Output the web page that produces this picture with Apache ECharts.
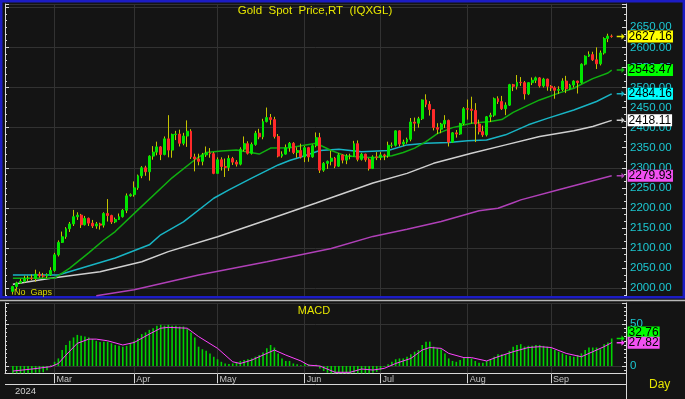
<!DOCTYPE html>
<html>
<head>
<meta charset="utf-8">
<title>Gold Spot Price,RT (IQXGL)</title>
<script src="https://cdn.jsdelivr.net/npm/echarts@6.0.0/dist/echarts.min.js"></script>
<style>
  html, body { margin: 0; padding: 0; background: #141414; }
  #chart { width: 685px; height: 399px; }
</style>
</head>
<body>
<div id="chart"></div>
<script>
// trading days, Feb 15 - Sep 24 2024
var dates = [
  '02-15','02-16','02-19','02-20','02-21','02-22','02-23','02-26','02-27','02-28','02-29',
  '03-01','03-04','03-05','03-06','03-07','03-08','03-11','03-12','03-13','03-14','03-15','03-18','03-19','03-20','03-21','03-22','03-25','03-26','03-27','03-28','03-29',
  '04-01','04-02','04-03','04-04','04-05','04-08','04-09','04-10','04-11','04-12','04-15','04-16','04-17','04-18','04-19','04-22','04-23','04-24','04-25','04-26','04-29','04-30',
  '05-01','05-02','05-03','05-06','05-07','05-08','05-09','05-10','05-13','05-14','05-15','05-16','05-17','05-20','05-21','05-22','05-23','05-24','05-27','05-28','05-29','05-30','05-31',
  '06-03','06-04','06-05','06-06','06-07','06-10','06-11','06-12','06-13','06-14','06-17','06-18','06-19','06-20','06-21','06-24','06-25','06-26','06-27','06-28',
  '07-01','07-02','07-03','07-04','07-05','07-08','07-09','07-10','07-11','07-12','07-15','07-16','07-17','07-18','07-19','07-22','07-23','07-24','07-25','07-26','07-29','07-30','07-31',
  '08-01','08-02','08-05','08-06','08-07','08-08','08-09','08-12','08-13','08-14','08-15','08-16','08-19','08-20','08-21','08-22','08-23','08-26','08-27','08-28','08-29','08-30',
  '09-02','09-03','09-04','09-05','09-06','09-09','09-10','09-11','09-12','09-13','09-16','09-17','09-18','09-19','09-20','09-23','09-24'
];
var monthNames = { '03': 'Mar', '04': 'Apr', '05': 'May', '06': 'Jun', '07': 'Jul', '08': 'Aug', '09': 'Sep' };

var openP = [
  1992,2004,2013,2017,2024,2025,2024,2035,2031,2030,2034,
  2044,2083,2114,2128,2148,2160,2178,2182,2158,2174,2162,2155,2160,2157,2186,2181,2165,2171,2178,2194,2230,
  2233,2250,2280,2300,2290,2329,2339,2352,2333,2372,2344,2383,2384,2361,2379,2391,2327,2322,2316,2332,2337,2335,
  2286,2320,2303,2301,2323,2314,2309,2346,2360,2336,2358,2386,2377,2415,2425,2420,2378,2329,2334,2350,2361,2338,2343,
  2327,2350,2327,2355,2375,2294,2311,2316,2324,2304,2332,2319,2329,2329,2360,2321,2334,2320,2298,2327,
  2326,2332,2330,2356,2356,2392,2359,2364,2371,2414,2411,2422,2469,2458,2445,2400,2396,2409,2418,2364,2387,2384,2410,
  2447,2446,2443,2409,2390,2382,2427,2431,2472,2465,2447,2456,2507,2503,2513,2512,2484,2512,2518,2524,2504,2521,
  2503,2499,2493,2495,2516,2497,2506,2516,2512,2558,2578,2582,2569,2559,2586,2622,2628
];
var closeP = [
  2004,2013,2017,2024,2025,2024,2035,2031,2030,2034,2044,
  2083,2114,2128,2148,2160,2178,2182,2158,2174,2162,2155,2160,2157,2186,2181,2165,2171,2178,2194,2230,2233,
  2250,2280,2300,2290,2329,2339,2352,2333,2372,2344,2383,2384,2361,2379,2391,2327,2322,2316,2332,2337,2335,2286,
  2320,2303,2301,2323,2314,2309,2346,2360,2336,2358,2386,2377,2415,2425,2420,2378,2329,2334,2350,2361,2338,2343,2327,
  2350,2327,2355,2375,2294,2311,2316,2324,2304,2332,2319,2329,2329,2360,2321,2334,2320,2298,2327,2326,
  2332,2330,2356,2356,2392,2359,2364,2371,2414,2411,2422,2469,2458,2445,2400,2396,2409,2418,2364,2387,2384,2410,2447,
  2446,2443,2409,2390,2382,2427,2431,2472,2465,2447,2456,2507,2503,2513,2512,2484,2512,2518,2524,2504,2521,2503,
  2499,2493,2495,2516,2497,2506,2516,2512,2558,2578,2582,2569,2559,2586,2622,2628,2627.16
];
var lowP = [
  1984,1996,2011,2014,2018,2020,2016,2026,2026,2025,2031,
  2041,2079,2113,2123,2140,2155,2170,2150,2156,2155,2150,2148,2146,2151,2166,2160,2162,2170,2176,2187,2228,
  2228,2245,2274,2280,2268,2320,2331,2319,2331,2326,2325,2369,2353,2356,2352,2322,2291,2306,2306,2327,2325,2284,
  2285,2293,2277,2292,2307,2303,2306,2341,2333,2333,2355,2371,2371,2413,2407,2373,2326,2325,2333,2340,2334,2325,2323,
  2314,2315,2325,2351,2287,2290,2297,2306,2299,2302,2311,2309,2321,2328,2316,2318,2315,2293,2297,2319,
  2319,2319,2325,2350,2353,2353,2354,2360,2366,2391,2400,2419,2451,2430,2393,2384,2386,2399,2353,2362,2375,2382,2406,
  2420,2410,2364,2383,2377,2378,2414,2427,2459,2444,2431,2454,2491,2495,2504,2470,2481,2506,2511,2500,2500,2492,
  2491,2472,2484,2491,2486,2495,2500,2485,2510,2555,2576,2566,2546,2555,2582,2613,2624
];
var highP = [
  2006,2016,2023,2031,2031,2034,2046,2041,2038,2037,2052,
  2088,2119,2141,2152,2165,2195,2189,2185,2180,2176,2170,2165,2163,2189,2222,2183,2176,2186,2197,2236,2236,
  2266,2283,2304,2305,2331,2354,2365,2354,2378,2431,2385,2392,2395,2387,2418,2396,2335,2335,2337,2353,2349,2339,
  2326,2326,2323,2331,2327,2319,2351,2378,2366,2363,2392,2397,2422,2450,2434,2427,2384,2341,2358,2364,2364,2351,2360,
  2354,2352,2358,2388,2387,2314,2318,2342,2327,2336,2334,2334,2335,2367,2368,2337,2335,2324,2331,2339,
  2339,2335,2365,2363,2393,2393,2370,2375,2424,2425,2427,2470,2483,2466,2445,2411,2412,2431,2420,2389,2394,2412,2451,
  2470,2477,2461,2420,2405,2429,2437,2475,2478,2479,2463,2509,2509,2531,2526,2516,2513,2525,2527,2526,2524,2522,
  2506,2503,2503,2523,2529,2509,2518,2517,2560,2580,2590,2589,2600,2592,2625,2634,2632
];

// moving averages: [day index, value]
var ma20 = [[0,2025],[11,2025],[15,2050],[20,2088],[24,2120],[27,2141],[33,2195],[42,2275],[48,2320],[51,2338],
  [55,2342],[59,2344],[65,2334],[68,2349],[73,2350],[80,2361],[84,2343],[88,2329],[95,2325],[100,2330],[103,2338],
  [106,2349],[109,2365],[112,2385],[116,2400],[121,2411],[126,2415],[129,2420],[132,2438],[136,2456],[139,2469],
  [144,2486],[148,2498],[150,2508],[153,2522],[157,2536],[158,2543.47]];
var ma50 = [[0,2033],[12,2033],[27,2075],[36,2108],[39,2133],[45,2165],[53,2224],[57,2245],[63,2274],[70,2307],
  [73,2318],[76,2327],[81,2343],[86,2346],[92,2340],[99,2343],[104,2357],[109,2361],[115,2363],[120,2367],[125,2369],
  [130,2382],[136,2407],[141,2423],[148,2444],[154,2465],[158,2484.16]];
var ma100 = [[0,2010],[10,2025],[23,2041],[34,2066],[41,2091],[54,2128],[67,2170],[80,2212],[86,2232],[95,2262],
  [104,2286],[111,2311],[121,2336],[130,2357],[139,2378],[148,2392],[153,2403],[158,2418.11]];
var ma200 = [[22,1981],[32,1996],[49,2033],[67,2066],[84,2099],[95,2129],[104,2147],[113,2166],[123,2193],
  [128,2199],[132,2213],[134,2220],[144,2245],[158,2279.93]];

// MACD histogram, one value per day
var macd = [
  -9,-9,-9,-9,-8.5,-8.5,-8,-8,-7.5,-5,
  1,5,9,19,25,30,34,37,36,35,
  34,32,30,28.6,29,29,27,25,24,23,
  24,27,30,33,38,40,43,45,48,49,
  48,49,48,48,47,47,44,40,34,23,
  20,18,15,11,8,5,3,2.4,3,4,
  6,7,8,9,11,13,16,21,25,22,
  15,9,6,6,3,2,1,3,2,1,
  1.5,-3,-6,-8,-9,-9,-9,-9,-9,-9,
  -8,-9,-9,-9,-9,-8,-7,-5,-1,2,
  5,8,9,9,11,14,17,19,25,29,
  29,23,21,20,15,9,6,5,7,10,
  11,9,6,4,4,6,8,11,14,14,
  14,18,23,25,26,23,24,24,25,25,
  24,23,21,19,17,15,13,12,11,13,
  15,19,22,22,22,20,26,28,32.76
];
var signal = [[0,-6],[5,-3.6],[10,-0.8],[12,3],[14,13],[17,27],[20,32],[22,32],[25,30],[29,25],[32,28],[36,38],
  [39,45],[41,46],[46,45],[49,35],[54,21],[58,5],[60,3],[63,7],[67,15],[69,19],[72,13],[76,6],[78,1],[81,0],
  [85,-7.5],[89,-7.5],[92,-3.6],[95,-4.8],[98,-2.8],[101,3],[105,9],[108,19],[110,22],[113,21],[115,15],[119,10],
  [121,10],[125,6],[128,11],[132,17],[136,22],[139,23],[142,22],[146,15],[150,11],[153,17],[156,23],[158,27.82]];

var PMIN = 1978, PMAX = 2708;
var MMIN = -8.7, MMAX = 75;
var gridColor = '#323232';
var axisWhite = '#d8d8d8';
var FONT = '"Liberation Sans", Arial, sans-serif';
var arrowPath = 'path://M0,3 L6,3 L6,0 L10,4 L6,8 L6,5 L0,5 Z';

function isMonthStart(idx) {
  return idx > 0 && dates[idx].slice(0, 2) !== dates[idx - 1].slice(0, 2);
}
var monthStarts = dates.filter(function (d, i) { return isMonthStart(i); });
var lastDay = dates[dates.length - 1];

var wickData = dates.map(function (d, i) { return [openP[i], closeP[i], lowP[i], highP[i]]; });
var bodyData = dates.map(function (d, i) {
  return [openP[i], closeP[i], Math.min(openP[i], closeP[i]), Math.max(openP[i], closeP[i])];
});

// value tag at the right axis; vAlign 'bottom' lifts a tag off its neighbour
function tagLine(value, bg, vAlign) {
  return {
    silent: true, symbol: 'none', animation: false,
    lineStyle: { color: 'rgba(0,0,0,0)', width: 0 },
    label: {
      show: true, position: 'end', distance: 14, verticalAlign: vAlign || 'middle',
      formatter: value.toFixed(2), color: '#000', backgroundColor: bg,
      fontSize: 12, fontFamily: FONT, lineHeight: 12, padding: [0, 1, 0, 1]
    },
    data: [{ yAxis: value }]
  };
}
function tagArrow(value, color) {
  return {
    silent: true, animation: false,
    symbol: arrowPath, symbolSize: [8, 6], symbolOffset: [9, 0],
    itemStyle: { color: color }, label: { show: false },
    data: [{ coord: [lastDay, value] }]
  };
}
function maSeries(name, data, color, tagBg) {
  var v = data[data.length - 1][1];
  return {
    name: name, type: 'line', xAxisIndex: 1, yAxisIndex: 2, data: data,
    symbol: 'none', silent: true, zlevel: 1, z: 2,
    lineStyle: { color: color, width: 1.5 },
    markLine: tagLine(v, tagBg), markPoint: tagArrow(v, color)
  };
}
function monthGrid(xi, yi) {
  return {
    type: 'line', xAxisIndex: xi, yAxisIndex: yi, data: [], silent: true, z: 1,
    markLine: {
      silent: true, symbol: 'none', animation: false, label: { show: false },
      lineStyle: { color: gridColor, type: 'solid', width: 1 },
      data: monthStarts.map(function (d) { return { xAxis: d }; })
    }
  };
}

var chart = echarts.init(document.getElementById('chart'));
chart.setOption({
  backgroundColor: '#141414',
  animation: false,
  grid: [
    { left: 5, right: 59, top: 4, height: 293, outerBoundsMode: 'none' },
    { left: 11, right: 71.4, top: 4, height: 293, outerBoundsMode: 'none' },
    { left: 5, right: 59, top: 303, height: 70.3, outerBoundsMode: 'none' },
    { left: 11, right: 71.4, top: 303, height: 70.3, outerBoundsMode: 'none' }
  ],
  xAxis: [
    { gridIndex: 0, type: 'value', min: 0, max: 1, show: false },
    { gridIndex: 1, type: 'category', data: dates, boundaryGap: true, show: false },
    { gridIndex: 2, type: 'value', min: 0, max: 1,
      axisLine: { show: true, onZero: false, lineStyle: { color: axisWhite } },
      axisTick: { show: false }, axisLabel: { show: false }, splitLine: { show: false } },
    { gridIndex: 3, type: 'category', data: dates, boundaryGap: true,
      axisLine: { show: false, onZero: false },
      axisTick: { show: true, alignWithLabel: true, interval: isMonthStart, length: 10, lineStyle: { color: axisWhite } },
      axisLabel: { show: true, interval: isMonthStart, align: 'left', verticalAlign: 'top', margin: 2,
        padding: [0, 0, 0, 2], color: '#c4c4c4', fontSize: 9, fontFamily: FONT,
        formatter: function (v) { return monthNames[v.slice(0, 2)] || ''; } },
      splitLine: { show: false } }
  ],
  yAxis: [
    { gridIndex: 0, type: 'value', min: PMIN, max: PMAX, splitNumber: 7, position: 'left',
      axisLine: { show: true, onZero: false, lineStyle: { color: axisWhite } },
      axisTick: { show: true, inside: true, length: 4, lineStyle: { color: axisWhite } },
      minorTick: { show: true, splitNumber: 6, length: 2, lineStyle: { color: axisWhite } },
      axisLabel: { show: false },
      splitLine: { show: true, lineStyle: { color: gridColor } } },
    { gridIndex: 0, type: 'value', min: PMIN, max: PMAX, splitNumber: 15, position: 'right',
      axisLine: { show: true, onZero: false, lineStyle: { color: axisWhite } },
      axisTick: { show: true, inside: true, length: 4, lineStyle: { color: axisWhite } },
      minorTick: { show: true, splitNumber: 3, length: 2, lineStyle: { color: axisWhite } },
      axisLabel: { show: true, margin: 4, color: '#1cc8d2', fontSize: 11.5, fontFamily: FONT,
        formatter: function (v) { return (v >= 2000 && v <= 2650 && v % 50 === 0) ? v.toFixed(2) : ''; } },
      splitLine: { show: false } },
    { gridIndex: 1, type: 'value', min: PMIN, max: PMAX, show: false, splitLine: { show: false } },
    { gridIndex: 2, type: 'value', min: MMIN, max: MMAX, splitNumber: 2, position: 'left',
      axisLine: { show: true, onZero: false, lineStyle: { color: axisWhite } },
      axisTick: { show: true, inside: true, length: 4, lineStyle: { color: axisWhite } },
      minorTick: { show: true, splitNumber: 10, length: 2, lineStyle: { color: axisWhite } },
      axisLabel: { show: false },
      splitLine: { show: true, lineStyle: { color: gridColor } } },
    { gridIndex: 2, type: 'value', min: MMIN, max: MMAX, splitNumber: 2, position: 'right',
      axisLine: { show: true, onZero: false, lineStyle: { color: axisWhite } },
      axisTick: { show: true, inside: true, length: 4, lineStyle: { color: axisWhite } },
      minorTick: { show: true, splitNumber: 10, length: 2, lineStyle: { color: axisWhite } },
      axisLabel: { show: true, margin: 4, color: '#1cc8d2', fontSize: 11.5, fontFamily: FONT,
        formatter: function (v) { return (v === 0 || v === 50) ? String(v) : ''; } },
      splitLine: { show: false } },
    { gridIndex: 3, type: 'value', min: MMIN, max: MMAX, show: false, splitLine: { show: false } }
  ],
  series: [
    monthGrid(1, 2),
    monthGrid(3, 5),
    maSeries('200', ma200, '#b040b8', '#f050f0'),
    maSeries('100', ma100, '#cfcfcf', '#ffffff'),
    maSeries('50', ma50, '#18b4c4', '#00ffff'),
    maSeries('20', ma20, '#10b010', '#00ff00'),
    {
      name: 'wick', type: 'candlestick', xAxisIndex: 1, yAxisIndex: 2, data: wickData,
      barWidth: 1, silent: true, zlevel: 1, z: 3,
      itemStyle: { color: '#c4c400', color0: '#c4c400', borderColor: '#c4c400', borderColor0: '#c4c400', borderWidth: 1 }
    },
    {
      name: 'Gold', type: 'candlestick', xAxisIndex: 1, yAxisIndex: 2, data: bodyData,
      barWidth: 2.4, silent: true, zlevel: 1, z: 4,
      itemStyle: { color: '#00e600', color0: '#ff2a2a', borderColor: '#00e600', borderColor0: '#ff2a2a', borderWidth: 1 },
      markLine: tagLine(closeP[closeP.length - 1], '#ffff00'),
      markPoint: tagArrow(closeP[closeP.length - 1], '#e8e800')
    },
    {
      name: 'MACD', type: 'bar', xAxisIndex: 3, yAxisIndex: 5, data: macd,
      barWidth: 1.6, silent: true, zlevel: 1, z: 2,
      itemStyle: { color: '#00d200' },
      markLine: tagLine(macd[macd.length - 1], '#00ff00', 'bottom'),
      markPoint: tagArrow(macd[macd.length - 1], '#00e000')
    },
    {
      name: 'Signal', type: 'line', xAxisIndex: 3, yAxisIndex: 5, data: signal,
      symbol: 'none', silent: true, zlevel: 1, z: 3,
      lineStyle: { color: '#ff44ff', width: 1 },
      markLine: tagLine(signal[signal.length - 1][1], '#f050f0'),
      markPoint: tagArrow(signal[signal.length - 1][1], '#ff44ff')
    }
  ],
  graphic: [
    { type: 'rect', z: 100, silent: true, shape: { x: 1.2, y: 1.2, width: 682.6, height: 296 },
      style: { fill: null, stroke: '#1c1cc4', lineWidth: 2.5 } },
    { type: 'line', z: 100, silent: true, shape: { x1: 0, y1: 300.5, x2: 685, y2: 300.5 },
      style: { stroke: '#b8b8b8', lineWidth: 1.5 } },
    { type: 'line', z: 100, silent: true, shape: { x1: 5, y1: 384.5, x2: 626, y2: 384.5 },
      style: { stroke: axisWhite, lineWidth: 1 } },
    { type: 'line', z: 100, silent: true, shape: { x1: 626.5, y1: 373, x2: 626.5, y2: 399 },
      style: { stroke: axisWhite, lineWidth: 1 } },
    { type: 'text', z: 100, silent: true, x: 315, y: 11,
      style: { text: 'Gold  Spot  Price,RT  (IQXGL)', fill: '#e6e600', font: '11.5px ' + FONT, align: 'center', verticalAlign: 'middle' } },
    { type: 'text', z: 100, silent: true, x: 14, y: 292.5,
      style: { text: 'No  Gaps', fill: '#d8d800', font: '9px ' + FONT, align: 'left', verticalAlign: 'middle' } },
    { type: 'text', z: 100, silent: true, x: 314, y: 311,
      style: { text: 'MACD', fill: '#e6e600', font: '11px ' + FONT, align: 'center', verticalAlign: 'middle' } },
    { type: 'text', z: 100, silent: true, x: 15, y: 391.5,
      style: { text: '2024', fill: '#d0d0d0', font: '9.5px ' + FONT, align: 'left', verticalAlign: 'middle' } },
    { type: 'text', z: 100, silent: true, x: 649, y: 385,
      style: { text: 'Day', fill: '#e6e600', font: '12px ' + FONT, align: 'left', verticalAlign: 'middle' } }
  ]
});
</script>
</body>
</html>
